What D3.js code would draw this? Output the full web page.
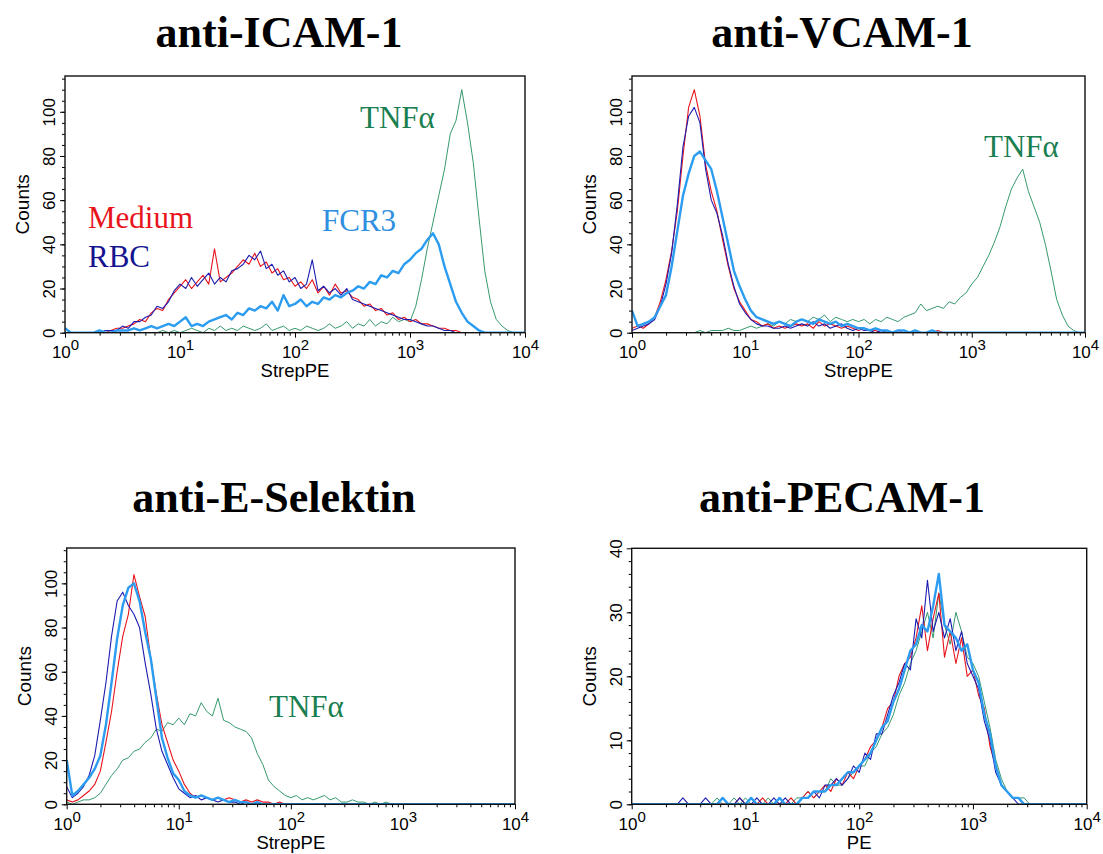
<!DOCTYPE html>
<html>
<head>
<meta charset="utf-8">
<script src="https://cdn.jsdelivr.net/npm/d3@7"></script>
<style>
  body { margin: 0; background: #fff; }
  text { font-family: "Liberation Sans", Arial, sans-serif; }
  text.serif { font-family: "Liberation Serif", "Times New Roman", serif; }
</style>
</head>
<body>
<div id="chart"></div>
<script>
// Histogram channels, as log10 of intensity: 10^0 .. 10^4 in 0.05 steps.
const bins = d3.range(81).map(i => i / 20);

const seriesNames = ["TNFα", "Medium", "RBC", "FCR3"];

// anti-ICAM-1 (counts per channel)
const icamTNF = [0,0,0,0,0,0,0,0,0,0, 0,0,0,0,0,0,0,1,0,1, 0,1,2,1,0,2,1,3,1,2, 1,3,2,1,2,4,1,2,3,1,
  2,1,3,2,1,2,4,2,3,5, 2,4,3,6,3,5,4,7,5,6, 5,12,24,38,50,62,74,90,96,110, 95,77,52,28,14,6,3,1,0,0, 0];
const icamMedium = [0,0,0,0,0,0,1,0,1,2, 2,3,4,6,5,9,11,10,15,18, 21,24,20,23,26,22,38,23,25,27, 30,33,31,36,30,32,27,29,24,25,
  21,23,20,24,18,21,17,22,18,19, 16,15,12,13,10,11,8,9,6,7, 5,6,4,4,3,2,2,1,1,0, 0,0,0,0,0,0,0,0,0,0, 0];
const icamRBC = [0,0,0,0,0,0,0,1,1,1, 3,2,5,5,7,8,12,11,14,19, 22,20,25,21,24,27,22,25,23,28, 29,31,35,33,37,29,31,26,28,23,
  25,20,22,33,19,21,18,20,17,20, 15,14,13,12,11,10,9,8,7,6, 6,5,4,3,3,2,1,1,0,0, 0,0,0,0,0,0,0,0,0,0, 0];
const icamFCR3 = [2,0,0,0,0,0,1,0,0,1, 1,1,2,1,2,3,2,3,4,3, 5,7,3,4,3,5,6,7,8,6, 9,8,11,10,12,11,14,10,17,12,
  13,15,12,14,13,16,15,17,16,18, 19,21,20,23,22,26,25,28,27,31, 33,36,38,42,45,40,30,22,14,9, 5,3,1,0,0,0,0,0,0,0, 0];

// anti-VCAM-1
const vcamTNF = [0,0,0,0,0,0,0,0,0,0, 0,0,1,0,1,1,1,2,1,1, 2,3,2,3,4,3,5,4,6,5, 6,5,7,6,8,5,7,6,5,6,
  5,6,4,6,5,7,6,5,7,8, 9,13,10,11,12,11,14,13,16,18, 22,25,30,35,41,48,57,65,70,74, 64,57,50,40,28,15,8,3,1,0, 0];
const vcamMedium = [2,3,2,4,7,14,24,37,55,80, 102,110,98,76,64,55,42,30,20,14, 10,6,5,3,4,2,3,2,3,4, 3,4,2,5,3,4,3,2,3,2,
  1,2,1,1,0,1,0,1,0,0, 0,0,0,0,1,0,0,0,0,0, 0,0,0,0,0,0,0,0,0,0, 0,0,0,0,0,0,0,0,0,0, 0];
const vcamRBC = [1,2,3,4,6,12,22,36,58,84, 98,102,95,74,60,54,44,31,21,13, 9,6,4,3,3,2,2,3,2,3, 4,3,5,3,4,2,3,4,2,1,
  2,1,1,0,1,0,0,0,0,0, 0,0,0,0,0,0,0,0,0,0, 0,0,0,0,0,0,0,0,0,0, 0,0,0,0,0,0,0,0,0,0, 0];
const vcamFCR3 = [10,3,4,5,7,12,17,30,46,62, 72,80,82,78,74,64,52,40,28,21, 15,10,7,6,5,4,5,4,3,5, 6,5,4,6,5,4,5,3,4,3,
  2,2,1,2,1,1,0,1,1,0, 1,0,0,1,0,0,0,0,0,0, 0,0,0,0,0,0,0,0,0,0, 0,0,0,0,0,0,0,0,0,0, 0];

// anti-E-Selektin
const selTNF = [1,0,1,2,2,3,5,9,13,16, 20,21,24,25,28,30,34,33,37,36, 39,36,41,40,46,42,40,48,38,37, 35,34,33,30,23,18,11,8,6,4,
  3,4,2,3,2,3,4,2,3,1, 1,2,1,1,0,1,0,1,0,0, 0,0,0,0,0,0,0,0,0,0, 0,0,0,0,0,0,0,0,0,0, 0];
const selMedium = [2,1,2,4,6,9,15,28,42,60, 76,86,104,94,85,66,50,36,28,20, 15,9,5,3,4,3,2,3,2,3, 2,1,2,1,2,1,1,0,1,0,
  0,0,0,0,0,0,0,0,0,0, 0,0,0,0,0,0,0,0,0,0, 0,0,0,0,0,0,0,0,0,0, 0,0,0,0,0,0,0,0,0,0, 0];
const selRBC = [8,3,5,8,13,22,38,55,76,92, 96,90,86,80,64,50,34,24,18,12, 7,5,3,4,2,3,2,1,2,1, 1,0,1,0,0,0,0,0,0,0,
  0,0,0,0,0,0,0,0,0,0, 0,0,0,0,0,0,0,0,0,0, 0,0,0,0,0,0,0,0,0,0, 0,0,0,0,0,0,0,0,0,0, 0];
const selFCR3 = [20,4,6,9,12,16,22,36,55,75, 90,98,100,92,78,66,48,30,21,14, 11,6,4,3,4,3,2,3,2,1, 2,1,1,0,1,0,0,0,0,0,
  0,0,0,0,0,0,0,0,0,0, 0,0,0,0,0,0,0,0,0,0, 0,0,0,0,0,0,0,0,0,0, 0,0,0,0,0,0,0,0,0,0, 0];

// anti-PECAM-1
const pecamTNF = [0,0,0,0,0,0,0,0,0,0, 0,0,0,0,0,1,0,0,1,0, 1,0,0,0,1,0,0,0,0,1, 1,2,1,2,2,4,3,3,4,5,
  6,6,8,9,11,12,14,17,19,22, 24,27,30,26,33,28,25,30,27,23, 22,20,16,12,7,4,2,1,1,1, 0,0,0,0,0,0,0,0,0,0, 0];
const pecamMedium = [0,0,0,0,0,0,0,0,0,0, 0,0,0,0,0,0,0,0,0,1, 0,0,0,1,0,0,0,0,1,0, 1,2,1,2,3,2,4,3,5,4,
  6,7,9,10,12,15,16,20,22,23, 26,31,24,29,33,23,27,22,26,20, 21,17,15,9,6,3,2,1,1,0, 0,0,0,0,0,0,0,0,0,0, 0];
const pecamRBC = [0,0,0,0,0,0,0,0,0,1, 0,0,0,1,0,0,0,0,0,1, 0,0,1,0,0,1,0,1,0,0, 1,1,2,1,3,3,4,3,4,6,
  5,8,7,11,11,14,17,19,22,21, 29,26,35,27,30,26,29,24,27,22, 20,18,13,10,5,3,2,1,0,0, 0,0,0,0,0,0,0,0,0,0, 0];
const pecamFCR3 = [0,0,0,0,0,0,0,0,0,0, 0,0,0,0,0,0,1,0,0,0, 0,1,0,0,0,0,1,0,0,0, 1,1,2,2,2,3,3,4,5,5,
  6,7,8,10,12,13,16,18,21,24, 25,28,27,31,36,28,27,26,24,25, 21,19,14,11,6,3,2,1,1,0, 0,0,0,0,0,0,0,0,0,0, 0];

const colors = { "TNFα": "#1f8d5c", "Medium": "#e8141c", "RBC": "#1c1cb0", "FCR3": "#2b9cf0" };
const widths = { "TNFα": 0.9, "Medium": 1.1, "RBC": 1.1, "FCR3": 2.4 };

const panels = [
  { title: "anti-ICAM-1", xLabel: "StrepPE", left: 65, right: 525, top: 76, bottom: 332.7, yMax: 116.2, yMajor: 20, yMinor: 5,
    series: [icamTNF, icamMedium, icamRBC, icamFCR3] },
  { title: "anti-VCAM-1", xLabel: "StrepPE", left: 632, right: 1085, top: 76, bottom: 332.7, yMax: 116.2, yMajor: 20, yMinor: 5,
    series: [vcamTNF, vcamMedium, vcamRBC, vcamFCR3] },
  { title: "anti-E-Selektin", xLabel: "StrepPE", left: 66.7, right: 515, top: 548, bottom: 804.3, yMax: 116, yMajor: 20, yMinor: 5,
    series: [selTNF, selMedium, selRBC, selFCR3] },
  { title: "anti-PECAM-1", xLabel: "PE", left: 631.7, right: 1086.7, top: 548.3, bottom: 804.3, yMax: 40, yMajor: 10, yMinor: 2,
    series: [pecamTNF, pecamMedium, pecamRBC, pecamFCR3] }
];

// Where the panel titles and the in-plot labels sit.
const titlePos = [[279, 47], [842, 47], [274, 512], [842, 512]];
const notes = [
  { panel: 0, name: "Medium", x: 88, y: 228 },
  { panel: 0, name: "RBC", x: 88, y: 267 },
  { panel: 0, name: "FCR3", x: 322, y: 231 },
  { panel: 0, name: "TNFα", x: 360, y: 128 },
  { panel: 1, name: "TNFα", x: 984, y: 157 },
  { panel: 2, name: "TNFα", x: 269, y: 717 }
];
const noteColors = { "TNFα": "#1a7f50", "Medium": "#e8141c", "RBC": "#141490", "FCR3": "#2f8fe0" };

const svg = d3.select("#chart").append("svg")
    .attr("width", 1103)
    .attr("height", 854);

panels.forEach((p, i) => {
  const x = d3.scaleLog().domain([1, 1e4]).range([p.left, p.right]);
  const y = d3.scaleLinear().domain([0, p.yMax]).range([p.bottom, p.top]);
  const g = svg.append("g");

  g.append("clipPath").attr("id", "clip" + i)
    .append("rect")
      .attr("x", p.left).attr("y", p.top)
      .attr("width", p.right - p.left).attr("height", p.bottom - p.top);

  const line = d3.line()
      .x((d, j) => x(Math.pow(10, bins[j])))
      .y(d => y(d));

  g.append("g").attr("clip-path", `url(#clip${i})`)
    .selectAll("path")
    .data(p.series)
    .join("path")
      .attr("fill", "none")
      .attr("stroke", (d, j) => colors[seriesNames[j]])
      .attr("stroke-width", (d, j) => widths[seriesNames[j]])
      .attr("stroke-linejoin", "round")
      .attr("d", line);

  // x axis: minor ticks at 2..9 of each decade, major ticks with 10^n labels
  const xMinor = [];
  for (let e = 0; e < 4; e++) for (let k = 2; k <= 9; k++) xMinor.push(k * Math.pow(10, e));
  g.append("g")
      .attr("transform", `translate(0,${p.bottom})`)
      .call(d3.axisBottom(x).tickValues(xMinor).tickSize(3).tickFormat(""))
      .call(a => a.select(".domain").remove());
  const xMajor = g.append("g")
      .attr("transform", `translate(0,${p.bottom})`)
      .call(d3.axisBottom(x).tickValues([1, 10, 100, 1000, 10000]).tickSize(5).tickFormat(""))
      .call(a => a.select(".domain").remove());
  xMajor.selectAll(".tick text").remove();
  const lab = xMajor.selectAll(".tick").append("text")
      .attr("y", 25.6)
      .attr("fill", "#000")
      .attr("font-size", 17)
      .attr("text-anchor", "middle");
  lab.append("tspan").text("10");
  lab.append("tspan").attr("dy", -8).attr("font-size", 15).text(d => Math.round(Math.log10(d)));

  // y axis: minor and major ticks, labels turned to read upwards
  g.append("g")
      .attr("transform", `translate(${p.left},0)`)
      .call(d3.axisLeft(y).tickValues(d3.range(0, p.yMax, p.yMinor)).tickSize(3).tickFormat(""))
      .call(a => a.select(".domain").remove());
  g.append("g")
      .attr("transform", `translate(${p.left},0)`)
      .call(d3.axisLeft(y).tickValues(d3.range(0, p.yMax + 0.01, p.yMajor)).tickSize(5))
      .call(a => a.select(".domain").remove())
      .call(a => a.selectAll(".tick text")
          .attr("transform", "rotate(-90)")
          .attr("x", 0).attr("y", -10).attr("dy", 0)
          .attr("text-anchor", "middle")
          .attr("font-size", 17)
          .attr("fill", "#000"));

  g.selectAll(".tick line").attr("stroke", "#000");

  // frame
  g.append("rect")
      .attr("x", p.left).attr("y", p.top)
      .attr("width", p.right - p.left).attr("height", p.bottom - p.top)
      .attr("fill", "none")
      .attr("stroke", "#111")
      .attr("stroke-width", 1.4);

  g.append("text")
      .attr("x", (p.left + p.right) / 2)
      .attr("y", p.bottom + 44.5)
      .attr("text-anchor", "middle")
      .attr("font-size", 18.5)
      .text(p.xLabel);

  g.append("text")
      .attr("transform", `translate(${p.left - 36},${(p.top + p.bottom) / 2}) rotate(-90)`)
      .attr("text-anchor", "middle")
      .attr("font-size", 19)
      .text("Counts");

  g.append("text")
      .attr("class", "serif")
      .attr("x", titlePos[i][0])
      .attr("y", titlePos[i][1])
      .attr("text-anchor", "middle")
      .attr("font-weight", "bold")
      .attr("font-size", 44)
      .text(p.title);
});

svg.append("g")
  .selectAll("text")
  .data(notes)
  .join("text")
    .attr("class", "serif")
    .attr("x", d => d.x)
    .attr("y", d => d.y)
    .attr("font-size", 31)
    .attr("fill", d => noteColors[d.name])
    .text(d => d.name);
</script>
</body>
</html>
